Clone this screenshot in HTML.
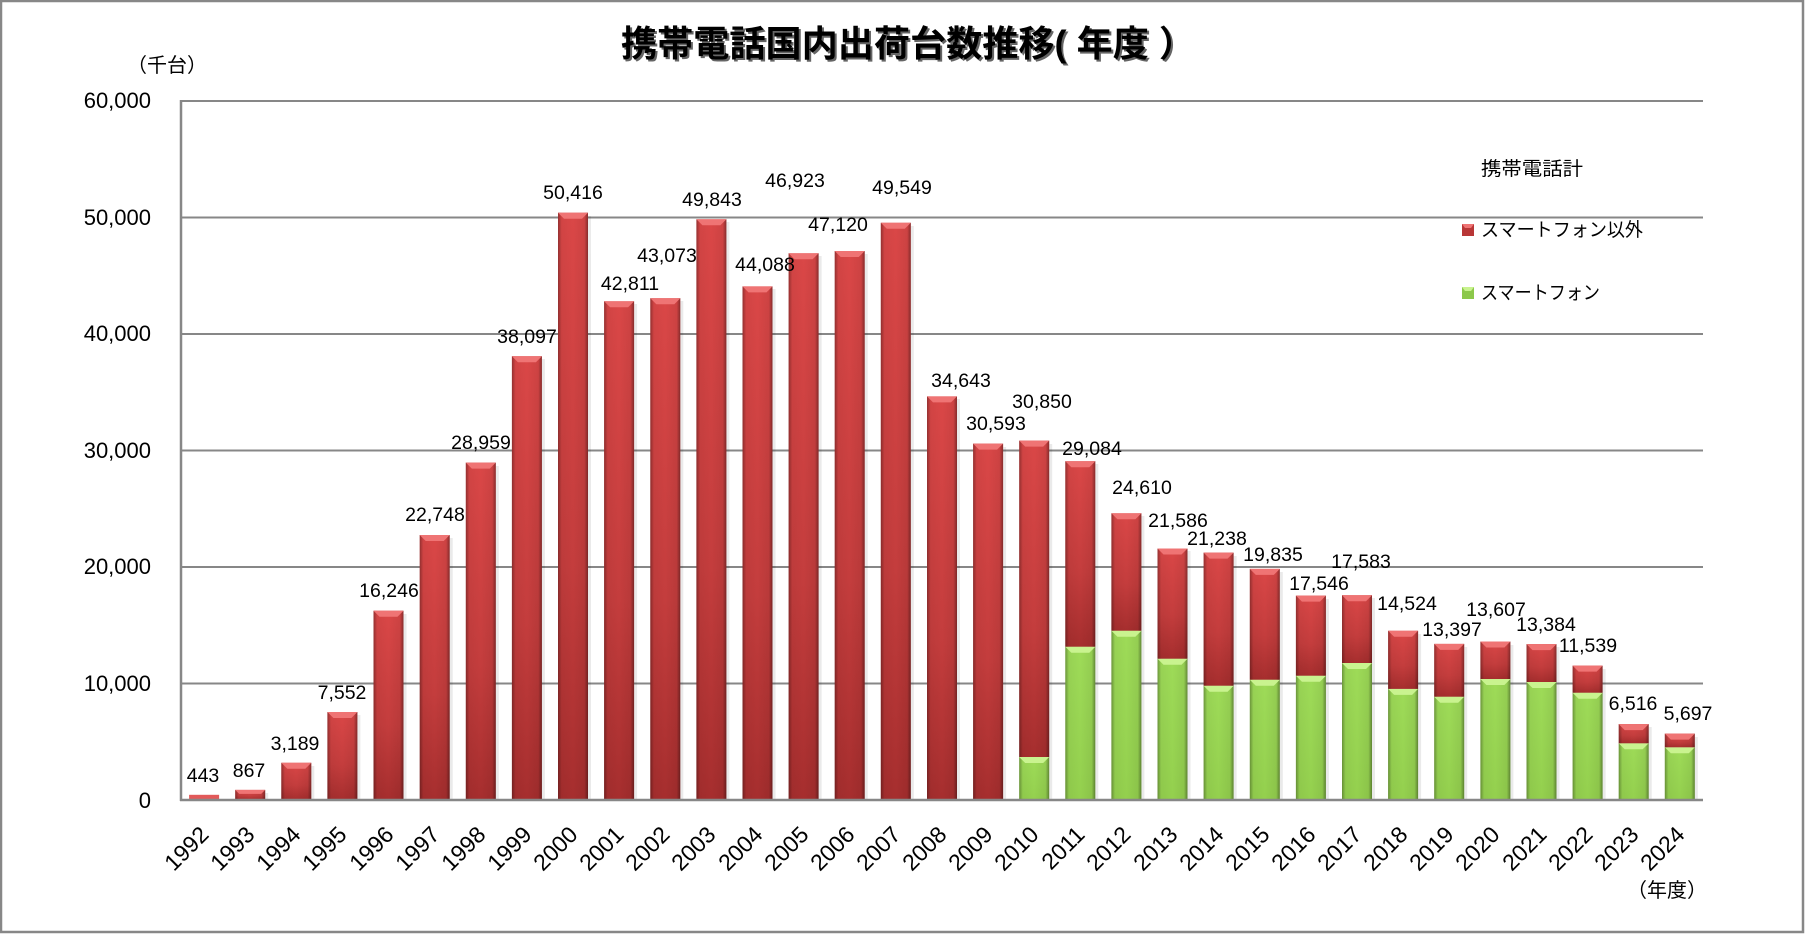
<!DOCTYPE html>
<html><head><meta charset="utf-8"><style>
html,body{margin:0;padding:0;background:#fff;}
svg{display:block;}
.t{font-family:"Liberation Sans","Noto Sans CJK JP",sans-serif;fill:#000;}
.dl{font-size:19.5px;text-anchor:middle;}
.yl{font-size:22px;text-anchor:end;}
.xl{font-size:23px;text-anchor:end;}
.jp{font-family:"Liberation Sans","Noto Sans CJK JP",sans-serif;fill:#000;}
</style></head><body>
<svg width="1805" height="934" viewBox="0 0 1805 934" xmlns="http://www.w3.org/2000/svg">
<defs>
<linearGradient id="rv" x1="0" y1="0" x2="0" y2="1"><stop offset="0" stop-color="#da4747"/><stop offset="0.6" stop-color="#c43d3d"/><stop offset="1" stop-color="#a62e2e"/></linearGradient>
<linearGradient id="gv" x1="0" y1="0" x2="0" y2="1"><stop offset="0" stop-color="#9edb58"/><stop offset="1" stop-color="#94d04e"/></linearGradient>
<linearGradient id="edge" x1="0" y1="0" x2="1" y2="0"><stop offset="0" stop-color="#000" stop-opacity="0.32"/><stop offset="0.12" stop-color="#000" stop-opacity="0.04"/><stop offset="0.5" stop-color="#000" stop-opacity="0"/><stop offset="0.88" stop-color="#000" stop-opacity="0.06"/><stop offset="1" stop-color="#000" stop-opacity="0.38"/></linearGradient>
<g id="bR"><polygon points="0,0 30,0 24,6 6,6" fill="#ef7474"/></g>
<g id="bG"><polygon points="0,0 30,0 24,6 6,6" fill="#c9f38f"/></g>
</defs>
<rect x="1" y="1" width="1802" height="931" fill="#fff" stroke="#878787" stroke-width="2.5"/>

<!-- title -->
<text x="910" y="58" class="jp" font-size="36" font-weight="bold" text-anchor="middle" textLength="574" lengthAdjust="spacingAndGlyphs" fill="#9a9a9a" opacity="0.6">携帯電話国内出荷台数推移( 年度 ）</text>
<text x="908" y="56" class="jp" font-size="36" font-weight="bold" text-anchor="middle" textLength="574" lengthAdjust="spacingAndGlyphs">携帯電話国内出荷台数推移( 年度 ）</text>

<text x="167" y="72" class="jp" font-size="20" text-anchor="middle">（千台）</text>
<text x="1667" y="897" class="jp" font-size="20" text-anchor="middle">（年度）</text>

<!-- gridlines -->
<g stroke="#878787" stroke-width="2">
<line x1="181" y1="101" x2="1703" y2="101"/>
<line x1="181" y1="217.5" x2="1703" y2="217.5"/>
<line x1="181" y1="334" x2="1703" y2="334"/>
<line x1="181" y1="450.5" x2="1703" y2="450.5"/>
<line x1="181" y1="567" x2="1703" y2="567"/>
<line x1="181" y1="683.5" x2="1703" y2="683.5"/>
</g>

<!-- y labels -->
<g class="t yl">
<text x="151" y="108">60,000</text>
<text x="151" y="225">50,000</text>
<text x="151" y="341">40,000</text>
<text x="151" y="458">30,000</text>
<text x="151" y="574">20,000</text>
<text x="151" y="691">10,000</text>
<text x="151" y="808">0</text>
</g>

<!-- shadows -->
<g fill="#000" opacity="0.08">
<rect x="265.2" y="793" width="3" height="7"/>
<rect x="311.3" y="766" width="3" height="34"/>
<rect x="357.4" y="715" width="3" height="85"/>
<rect x="403.5" y="614" width="3" height="186"/>
<rect x="449.7" y="538" width="3" height="262"/>
<rect x="495.8" y="466" width="3" height="334"/>
<rect x="541.9" y="359" width="3" height="441"/>
<rect x="588" y="216" width="3" height="584"/>
<rect x="634.1" y="304" width="3" height="496"/>
<rect x="680.3" y="301" width="3" height="499"/>
<rect x="726.4" y="222" width="3" height="578"/>
<rect x="772.5" y="289" width="3" height="511"/>
<rect x="818.6" y="256" width="3" height="544"/>
<rect x="864.7" y="254" width="3" height="546"/>
<rect x="910.8" y="226" width="3" height="574"/>
<rect x="957" y="399" width="3" height="401"/>
<rect x="1003.1" y="447" width="3" height="353"/>
<rect x="1049.2" y="444" width="3" height="356"/>
<rect x="1095.3" y="464" width="3" height="336"/>
<rect x="1141.4" y="516" width="3" height="284"/>
<rect x="1187.5" y="551" width="3" height="249"/>
<rect x="1233.6" y="556" width="3" height="244"/>
<rect x="1279.8" y="572" width="3" height="228"/>
<rect x="1325.9" y="599" width="3" height="201"/>
<rect x="1372" y="598" width="3" height="202"/>
<rect x="1418.1" y="634" width="3" height="166"/>
<rect x="1464.2" y="647" width="3" height="153"/>
<rect x="1510.4" y="645" width="3" height="155"/>
<rect x="1556.5" y="647" width="3" height="153"/>
<rect x="1602.6" y="669" width="3" height="131"/>
<rect x="1648.7" y="727" width="3" height="73"/>
<rect x="1694.8" y="737" width="3" height="63"/>
</g>

<!-- bars: red only -->
<g>
<rect x="189.1" y="794.8" width="30" height="5.2" fill="#e25a5a"/>
<rect x="235.2" y="789.9" width="30" height="10.1" fill="url(#rv)"/><rect x="235.2" y="789.9" width="30" height="10.1" fill="url(#edge)"/><polygon points="235.2,789.9 265.2,789.9 261.2,793.9 239.2,793.9" fill="#ef7474"/>
<rect x="281.3" y="762.8" width="30" height="37.2" fill="url(#rv)"/><rect x="281.3" y="762.8" width="30" height="37.2" fill="url(#edge)"/><use href="#bR" x="281.3" y="762.8"/>
<rect x="327.4" y="712" width="30" height="88" fill="url(#rv)"/><rect x="327.4" y="712" width="30" height="88" fill="url(#edge)"/><use href="#bR" x="327.4" y="712"/>
<rect x="373.5" y="610.7" width="30" height="189.3" fill="url(#rv)"/><rect x="373.5" y="610.7" width="30" height="189.3" fill="url(#edge)"/><use href="#bR" x="373.5" y="610.7"/>
<rect x="419.7" y="535" width="30" height="265" fill="url(#rv)"/><rect x="419.7" y="535" width="30" height="265" fill="url(#edge)"/><use href="#bR" x="419.7" y="535"/>
<rect x="465.8" y="462.6" width="30" height="337.4" fill="url(#rv)"/><rect x="465.8" y="462.6" width="30" height="337.4" fill="url(#edge)"/><use href="#bR" x="465.8" y="462.6"/>
<rect x="511.9" y="356.2" width="30" height="443.8" fill="url(#rv)"/><rect x="511.9" y="356.2" width="30" height="443.8" fill="url(#edge)"/><use href="#bR" x="511.9" y="356.2"/>
<rect x="558" y="212.7" width="30" height="587.3" fill="url(#rv)"/><rect x="558" y="212.7" width="30" height="587.3" fill="url(#edge)"/><use href="#bR" x="558" y="212.7"/>
<rect x="604.1" y="301.3" width="30" height="498.7" fill="url(#rv)"/><rect x="604.1" y="301.3" width="30" height="498.7" fill="url(#edge)"/><use href="#bR" x="604.1" y="301.3"/>
<rect x="650.3" y="298.2" width="30" height="501.8" fill="url(#rv)"/><rect x="650.3" y="298.2" width="30" height="501.8" fill="url(#edge)"/><use href="#bR" x="650.3" y="298.2"/>
<rect x="696.4" y="219.3" width="30" height="580.7" fill="url(#rv)"/><rect x="696.4" y="219.3" width="30" height="580.7" fill="url(#edge)"/><use href="#bR" x="696.4" y="219.3"/>
<rect x="742.5" y="286.4" width="30" height="513.6" fill="url(#rv)"/><rect x="742.5" y="286.4" width="30" height="513.6" fill="url(#edge)"/><use href="#bR" x="742.5" y="286.4"/>
<rect x="788.6" y="253.3" width="30" height="546.7" fill="url(#rv)"/><rect x="788.6" y="253.3" width="30" height="546.7" fill="url(#edge)"/><use href="#bR" x="788.6" y="253.3"/>
<rect x="834.7" y="251" width="30" height="549" fill="url(#rv)"/><rect x="834.7" y="251" width="30" height="549" fill="url(#edge)"/><use href="#bR" x="834.7" y="251"/>
<rect x="880.8" y="222.8" width="30" height="577.2" fill="url(#rv)"/><rect x="880.8" y="222.8" width="30" height="577.2" fill="url(#edge)"/><use href="#bR" x="880.8" y="222.8"/>
<rect x="927" y="396.4" width="30" height="403.6" fill="url(#rv)"/><rect x="927" y="396.4" width="30" height="403.6" fill="url(#edge)"/><use href="#bR" x="927" y="396.4"/>
<rect x="973.1" y="443.6" width="30" height="356.4" fill="url(#rv)"/><rect x="973.1" y="443.6" width="30" height="356.4" fill="url(#edge)"/><use href="#bR" x="973.1" y="443.6"/>
</g>

<!-- stacked bars -->
<g>
<rect x="1019.2" y="757" width="30" height="43" fill="url(#gv)"/><rect x="1019.2" y="757" width="30" height="43" fill="url(#edge)"/><use href="#bG" x="1019.2" y="757"/>
<rect x="1019.2" y="440.6" width="30" height="316.4" fill="url(#rv)"/><rect x="1019.2" y="440.6" width="30" height="316.4" fill="url(#edge)"/><use href="#bR" x="1019.2" y="440.6"/>

<rect x="1065.3" y="646.7" width="30" height="153.3" fill="url(#gv)"/><rect x="1065.3" y="646.7" width="30" height="153.3" fill="url(#edge)"/><use href="#bG" x="1065.3" y="646.7"/>
<rect x="1065.3" y="461.2" width="30" height="185.5" fill="url(#rv)"/><rect x="1065.3" y="461.2" width="30" height="185.5" fill="url(#edge)"/><use href="#bR" x="1065.3" y="461.2"/>

<rect x="1111.4" y="630.7" width="30" height="169.3" fill="url(#gv)"/><rect x="1111.4" y="630.7" width="30" height="169.3" fill="url(#edge)"/><use href="#bG" x="1111.4" y="630.7"/>
<rect x="1111.4" y="513.3" width="30" height="117.4" fill="url(#rv)"/><rect x="1111.4" y="513.3" width="30" height="117.4" fill="url(#edge)"/><use href="#bR" x="1111.4" y="513.3"/>

<rect x="1157.5" y="658.7" width="30" height="141.3" fill="url(#gv)"/><rect x="1157.5" y="658.7" width="30" height="141.3" fill="url(#edge)"/><use href="#bG" x="1157.5" y="658.7"/>
<rect x="1157.5" y="548.5" width="30" height="110.2" fill="url(#rv)"/><rect x="1157.5" y="548.5" width="30" height="110.2" fill="url(#edge)"/><use href="#bR" x="1157.5" y="548.5"/>

<rect x="1203.6" y="685.7" width="30" height="114.3" fill="url(#gv)"/><rect x="1203.6" y="685.7" width="30" height="114.3" fill="url(#edge)"/><use href="#bG" x="1203.6" y="685.7"/>
<rect x="1203.6" y="552.6" width="30" height="133.1" fill="url(#rv)"/><rect x="1203.6" y="552.6" width="30" height="133.1" fill="url(#edge)"/><use href="#bR" x="1203.6" y="552.6"/>

<rect x="1249.8" y="679.7" width="30" height="120.3" fill="url(#gv)"/><rect x="1249.8" y="679.7" width="30" height="120.3" fill="url(#edge)"/><use href="#bG" x="1249.8" y="679.7"/>
<rect x="1249.8" y="568.9" width="30" height="110.8" fill="url(#rv)"/><rect x="1249.8" y="568.9" width="30" height="110.8" fill="url(#edge)"/><use href="#bR" x="1249.8" y="568.9"/>

<rect x="1295.9" y="675.7" width="30" height="124.3" fill="url(#gv)"/><rect x="1295.9" y="675.7" width="30" height="124.3" fill="url(#edge)"/><use href="#bG" x="1295.9" y="675.7"/>
<rect x="1295.9" y="595.6" width="30" height="80.1" fill="url(#rv)"/><rect x="1295.9" y="595.6" width="30" height="80.1" fill="url(#edge)"/><use href="#bR" x="1295.9" y="595.6"/>

<rect x="1342" y="663" width="30" height="137" fill="url(#gv)"/><rect x="1342" y="663" width="30" height="137" fill="url(#edge)"/><use href="#bG" x="1342" y="663"/>
<rect x="1342" y="595.2" width="30" height="67.8" fill="url(#rv)"/><rect x="1342" y="595.2" width="30" height="67.8" fill="url(#edge)"/><use href="#bR" x="1342" y="595.2"/>

<rect x="1388.1" y="688.9" width="30" height="111.1" fill="url(#gv)"/><rect x="1388.1" y="688.9" width="30" height="111.1" fill="url(#edge)"/><use href="#bG" x="1388.1" y="688.9"/>
<rect x="1388.1" y="630.8" width="30" height="58.1" fill="url(#rv)"/><rect x="1388.1" y="630.8" width="30" height="58.1" fill="url(#edge)"/><use href="#bR" x="1388.1" y="630.8"/>

<rect x="1434.2" y="696.7" width="30" height="103.3" fill="url(#gv)"/><rect x="1434.2" y="696.7" width="30" height="103.3" fill="url(#edge)"/><use href="#bG" x="1434.2" y="696.7"/>
<rect x="1434.2" y="643.9" width="30" height="52.8" fill="url(#rv)"/><rect x="1434.2" y="643.9" width="30" height="52.8" fill="url(#edge)"/><use href="#bR" x="1434.2" y="643.9"/>

<rect x="1480.4" y="679" width="30" height="121" fill="url(#gv)"/><rect x="1480.4" y="679" width="30" height="121" fill="url(#edge)"/><use href="#bG" x="1480.4" y="679"/>
<rect x="1480.4" y="641.5" width="30" height="37.5" fill="url(#rv)"/><rect x="1480.4" y="641.5" width="30" height="37.5" fill="url(#edge)"/><use href="#bR" x="1480.4" y="641.5"/>

<rect x="1526.5" y="682" width="30" height="118" fill="url(#gv)"/><rect x="1526.5" y="682" width="30" height="118" fill="url(#edge)"/><use href="#bG" x="1526.5" y="682"/>
<rect x="1526.5" y="644.1" width="30" height="37.9" fill="url(#rv)"/><rect x="1526.5" y="644.1" width="30" height="37.9" fill="url(#edge)"/><use href="#bR" x="1526.5" y="644.1"/>

<rect x="1572.6" y="692.7" width="30" height="107.3" fill="url(#gv)"/><rect x="1572.6" y="692.7" width="30" height="107.3" fill="url(#edge)"/><use href="#bG" x="1572.6" y="692.7"/>
<rect x="1572.6" y="665.6" width="30" height="27.1" fill="url(#rv)"/><rect x="1572.6" y="665.6" width="30" height="27.1" fill="url(#edge)"/><use href="#bR" x="1572.6" y="665.6"/>

<rect x="1618.7" y="743.3" width="30" height="56.7" fill="url(#gv)"/><rect x="1618.7" y="743.3" width="30" height="56.7" fill="url(#edge)"/><use href="#bG" x="1618.7" y="743.3"/>
<rect x="1618.7" y="724.1" width="30" height="19.2" fill="url(#rv)"/><rect x="1618.7" y="724.1" width="30" height="19.2" fill="url(#edge)"/><use href="#bR" x="1618.7" y="724.1"/>

<rect x="1664.8" y="747.3" width="30" height="52.7" fill="url(#gv)"/><rect x="1664.8" y="747.3" width="30" height="52.7" fill="url(#edge)"/><use href="#bG" x="1664.8" y="747.3"/>
<rect x="1664.8" y="733.6" width="30" height="13.7" fill="url(#rv)"/><rect x="1664.8" y="733.6" width="30" height="13.7" fill="url(#edge)"/><use href="#bR" x="1664.8" y="733.6"/>
</g>

<!-- axes -->
<g stroke="#878787" stroke-width="2.5">
<line x1="181" y1="100" x2="181" y2="801"/>
<line x1="180" y1="800" x2="1703" y2="800"/>
</g>

<!-- data labels -->
<g class="t dl">
<text x="203" y="782">443</text>
<text x="249" y="777">867</text>
<text x="295" y="750">3,189</text>
<text x="342" y="699">7,552</text>
<text x="389" y="597">16,246</text>
<text x="435" y="521">22,748</text>
<text x="481" y="449">28,959</text>
<text x="527" y="343">38,097</text>
<text x="573" y="199">50,416</text>
<text x="630" y="290">42,811</text>
<text x="667" y="262">43,073</text>
<text x="712" y="206">49,843</text>
<text x="765" y="271">44,088</text>
<text x="795" y="187">46,923</text>
<text x="838" y="231">47,120</text>
<text x="902" y="194">49,549</text>
<text x="961" y="387">34,643</text>
<text x="996" y="430">30,593</text>
<text x="1042" y="408">30,850</text>
<text x="1092" y="455">29,084</text>
<text x="1142" y="494">24,610</text>
<text x="1178" y="527">21,586</text>
<text x="1217" y="545">21,238</text>
<text x="1273" y="561">19,835</text>
<text x="1319" y="590">17,546</text>
<text x="1361" y="568">17,583</text>
<text x="1407" y="610">14,524</text>
<text x="1452" y="636">13,397</text>
<text x="1496" y="616">13,607</text>
<text x="1546" y="631">13,384</text>
<text x="1588" y="652">11,539</text>
<text x="1633" y="710">6,516</text>
<text x="1688" y="720">5,697</text>
</g>

<!-- x labels -->
<g class="t xl">
<text transform="translate(210,836) rotate(-45)">1992</text>
<text transform="translate(256,836) rotate(-45)">1993</text>
<text transform="translate(302,836) rotate(-45)">1994</text>
<text transform="translate(348,836) rotate(-45)">1995</text>
<text transform="translate(395,836) rotate(-45)">1996</text>
<text transform="translate(441,836) rotate(-45)">1997</text>
<text transform="translate(487,836) rotate(-45)">1998</text>
<text transform="translate(533,836) rotate(-45)">1999</text>
<text transform="translate(579,836) rotate(-45)">2000</text>
<text transform="translate(625,836) rotate(-45)">2001</text>
<text transform="translate(671,836) rotate(-45)">2002</text>
<text transform="translate(717,836) rotate(-45)">2003</text>
<text transform="translate(764,836) rotate(-45)">2004</text>
<text transform="translate(810,836) rotate(-45)">2005</text>
<text transform="translate(856,836) rotate(-45)">2006</text>
<text transform="translate(902,836) rotate(-45)">2007</text>
<text transform="translate(948,836) rotate(-45)">2008</text>
<text transform="translate(994,836) rotate(-45)">2009</text>
<text transform="translate(1040,836) rotate(-45)">2010</text>
<text transform="translate(1086,836) rotate(-45)">2011</text>
<text transform="translate(1132,836) rotate(-45)">2012</text>
<text transform="translate(1179,836) rotate(-45)">2013</text>
<text transform="translate(1225,836) rotate(-45)">2014</text>
<text transform="translate(1271,836) rotate(-45)">2015</text>
<text transform="translate(1317,836) rotate(-45)">2016</text>
<text transform="translate(1363,836) rotate(-45)">2017</text>
<text transform="translate(1409,836) rotate(-45)">2018</text>
<text transform="translate(1455,836) rotate(-45)">2019</text>
<text transform="translate(1501,836) rotate(-45)">2020</text>
<text transform="translate(1548,836) rotate(-45)">2021</text>
<text transform="translate(1594,836) rotate(-45)">2022</text>
<text transform="translate(1640,836) rotate(-45)">2023</text>
<text transform="translate(1686,836) rotate(-45)">2024</text>
</g>

<!-- legend -->
<text x="1481" y="175" class="jp" font-size="19" textLength="102" lengthAdjust="spacingAndGlyphs">携帯電話計</text>
<rect x="1462" y="224" width="12" height="12" fill="#b83636"/>
<polygon points="1462,224 1474,224 1471,228 1465,228" fill="#ef7474"/>
<text x="1481" y="236" class="jp" font-size="19" textLength="162" lengthAdjust="spacingAndGlyphs">スマートフォン以外</text>
<rect x="1462" y="287" width="12" height="12" fill="#8cc84a"/>
<polygon points="1462,287 1474,287 1471,291 1465,291" fill="#c9f38f"/>
<text x="1481" y="299" class="jp" font-size="19" textLength="119" lengthAdjust="spacingAndGlyphs">スマートフォン</text>
</svg>
</body></html>
